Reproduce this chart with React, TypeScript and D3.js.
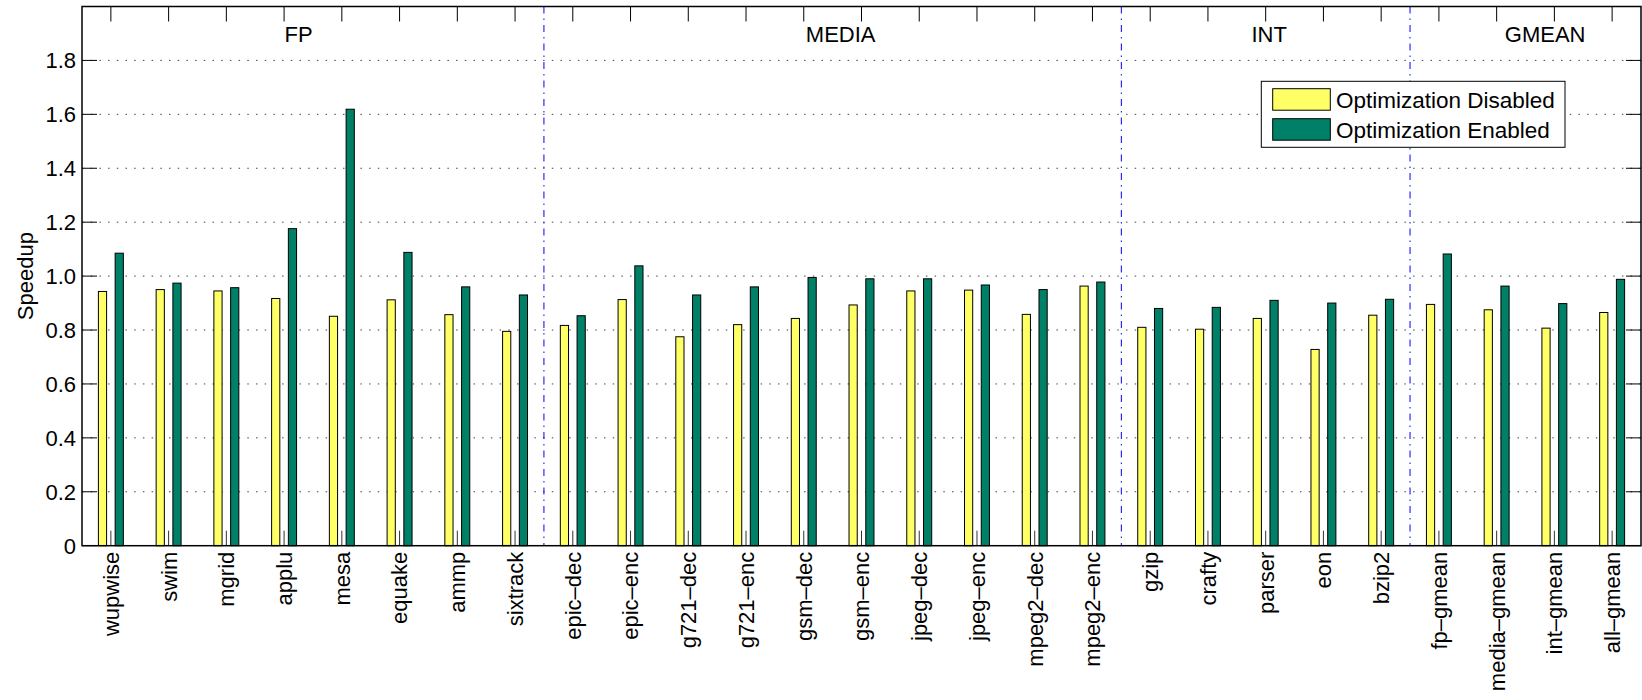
import React from 'react';
import * as d3 from 'd3';

const categories = [
  'wupwise', 'swim', 'mgrid', 'applu', 'mesa', 'equake', 'ammp', 'sixtrack',
  'epic\u2013dec', 'epic\u2013enc', 'g721\u2013dec', 'g721\u2013enc', 'gsm\u2013dec', 'gsm\u2013enc',
  'jpeg\u2013dec', 'jpeg\u2013enc', 'mpeg2\u2013dec', 'mpeg2\u2013enc',
  'gzip', 'crafty', 'parser', 'eon', 'bzip2',
  'fp\u2013gmean', 'media\u2013gmean', 'int\u2013gmean', 'all\u2013gmean',
];
const disabledValues = [
  0.943, 0.950, 0.945, 0.917, 0.851, 0.912, 0.857, 0.795,
  0.817, 0.913, 0.775, 0.820, 0.843, 0.893, 0.945, 0.948, 0.858, 0.963,
  0.810, 0.803, 0.843, 0.728, 0.855,
  0.895, 0.875, 0.807, 0.865,
];
const enabledValues = [
  1.085, 0.974, 0.957, 1.176, 1.619, 1.088, 0.960, 0.930,
  0.853, 1.038, 0.930, 0.960, 0.995, 0.990, 0.990, 0.967, 0.950, 0.978,
  0.880, 0.884, 0.910, 0.900, 0.914,
  1.082, 0.963, 0.898, 0.988,
];
const seriesNames = ['Optimization Disabled', 'Optimization Enabled'];
const groupNames = ['FP', 'MEDIA', 'INT', 'GMEAN'];
const groupLabelX = [4.25, 13.64, 21.06, 25.84];
const dividerX = [8.5, 18.5, 23.5];
const yTicks = [0, 0.2, 0.4, 0.6, 0.8, 1.0, 1.2, 1.4, 1.6, 1.8];
const yTickLabels = ['0', '0.2', '0.4', '0.6', '0.8', '1.0', '1.2', '1.4', '1.6', '1.8'];

const COLORS = ['#ffff66', '#008066'];
const FONT = '"Liberation Sans", Arial, Helvetica, sans-serif';

export default function App() {
  const W = 1642, H = 700;
  const left = 82, right = 1641, top = 6.5, bottom = 545.7;
  const x = d3.scaleLinear().domain([0.5, categories.length + 0.5]).range([left, right]);
  const y = d3.scaleLinear().domain([0, 2]).range([bottom, top]);
  const barW = x(1.142) - x(1);
  const offsets = [-0.145, 0.145];
  const series = [disabledValues, enabledValues];
  const tickLen = 15;

  return (
    <svg width={W} height={H} style={{ position: 'absolute', left: 0, top: 0, background: '#fff' }}
      fontFamily={FONT}>
      <rect x={0} y={0} width={W} height={H} fill="#fff" />
      {/* grid */}
      {yTicks.filter(t => t > 0).map(t => (
        <line key={'g' + t} x1={left} x2={right} y1={y(t)} y2={y(t)} stroke="#444" strokeWidth={1}
          strokeDasharray="1.5 7.2" />
      ))}
      {/* dividers */}
      {dividerX.map(d => (
        <line key={'d' + d} x1={x(d)} x2={x(d)} y1={top} y2={bottom} stroke="#0000ff" strokeWidth={1}
          strokeDasharray="7 5 1.5 5" />
      ))}
      {/* bars */}
      {series.map((vals, si) => vals.map((v, i) => (
        <rect key={'b' + si + '-' + i}
          x={x(i + 1 + offsets[si]) - barW / 2} y={y(v)} width={barW} height={y(0) - y(v)}
          fill={COLORS[si]} stroke="#000" strokeWidth={1} />
      )))}
      {/* x ticks top & bottom */}
      {categories.map((c, i) => (
        <g key={'t' + i}>
          <line x1={x(i + 1)} x2={x(i + 1)} y1={top} y2={top + tickLen} stroke="#000" strokeWidth={1} />
          <line x1={x(i + 1)} x2={x(i + 1)} y1={bottom} y2={bottom - tickLen} stroke="#333" strokeWidth={1} />
        </g>
      ))}
      {/* y ticks left & right */}
      {yTicks.map(t => (
        <g key={'yt' + t}>
          <line x1={left} x2={left + tickLen} y1={y(t)} y2={y(t)} stroke="#000" strokeWidth={1} />
          <line x1={right} x2={right - tickLen} y1={y(t)} y2={y(t)} stroke="#000" strokeWidth={1} />
        </g>
      ))}
      {/* axes box */}
      <rect x={left} y={top} width={right - left} height={bottom - top} fill="none" stroke="#000" strokeWidth={1.5} />
      {/* y tick labels */}
      {yTicks.map((t, i) => (
        <text key={'yl' + t} x={left - 6} y={y(t)} dy="0.36em" textAnchor="end" fontSize={22} fill="#000">
          {yTickLabels[i]}
        </text>
      ))}
      {/* y label */}
      <text transform={`translate(33, ${(top + bottom) / 2}) rotate(-90)`} textAnchor="middle" fontSize={22} fill="#000">
        Speedup
      </text>
      {/* category labels */}
      {categories.map((c, i) => (
        <text key={'cl' + i} transform={`translate(${x(i + 1)}, ${bottom + 6}) rotate(-90)`} textAnchor="end"
          dy="0.36em" fontSize={22} fill="#000">{c}</text>
      ))}
      {/* group labels */}
      {groupNames.map((g, i) => (
        <text key={'gn' + g} x={x(groupLabelX[i])} y={41.7} textAnchor="middle" fontSize={22} fill="#000">{g}</text>
      ))}
      {/* legend */}
      <g>
        <rect x={1261.3} y={81.3} width={1565 - 1261.3} height={66} fill="#fff" stroke="#000" strokeWidth={1} />
        {seriesNames.map((s, i) => (
          <g key={'lg' + i}>
            <rect x={1272.7} y={88.7 + i * 30} width={57.6} height={21.5} fill={COLORS[i]} stroke="#000" strokeWidth={1} />
            <text x={1336} y={108 + i * 30} fontSize={22.5} fill="#000">{s}</text>
          </g>
        ))}
      </g>
    </svg>
  );
}
